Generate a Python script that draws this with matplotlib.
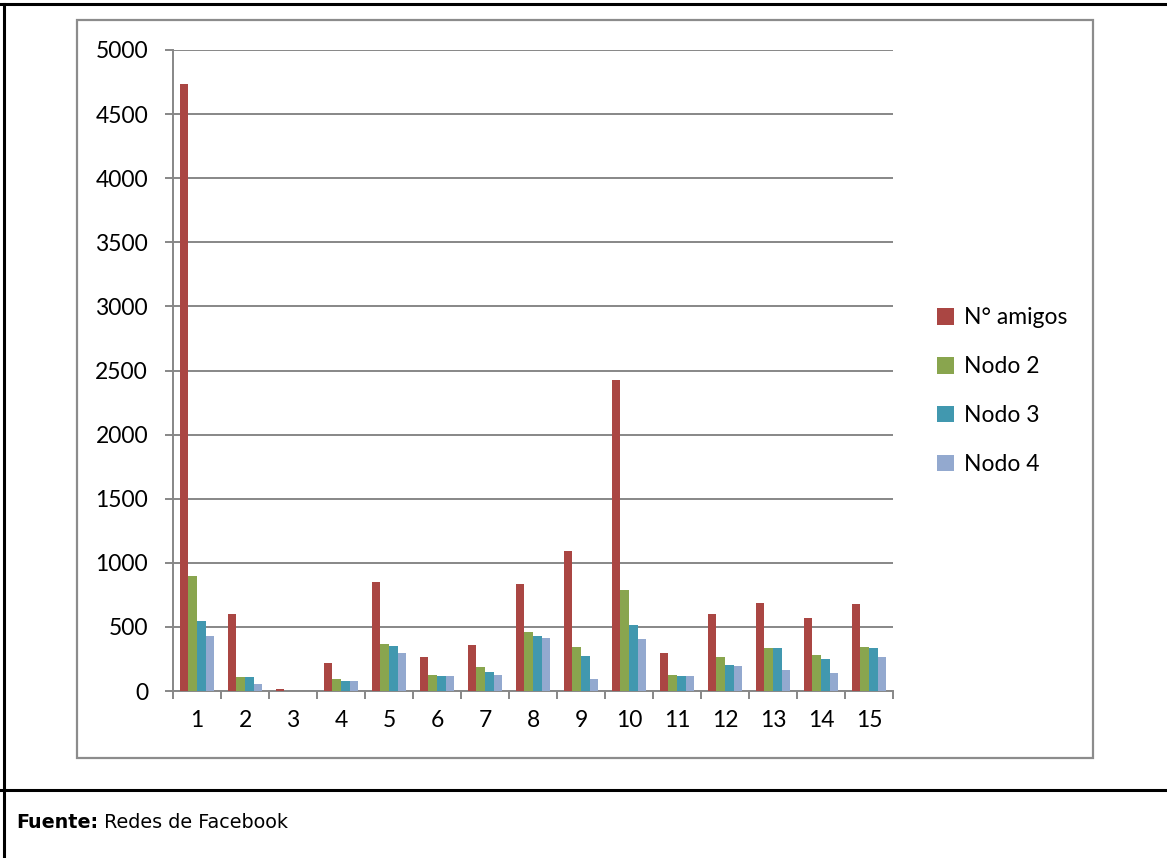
import numpy as np
import matplotlib.pyplot as plt
from matplotlib.patches import Rectangle
from matplotlib.lines import Line2D

# Data
categories = [str(i) for i in range(1, 16)]
amigos = [4735, 598, 13, 218, 850, 265, 356, 837, 1090, 2426, 294, 603, 686, 569, 676]
nodo2 = [897, 112, 0, 91, 367, 125, 185, 460, 346, 788, 125, 265, 338, 283, 343]
nodo3 = [548, 110, 0, 76, 354, 120, 146, 429, 270, 512, 115, 203, 338, 250, 338]
nodo4 = [429, 55, 0, 76, 299, 117, 125, 413, 96, 408, 115, 193, 164, 138, 265]
series_names = ['N° amigos', 'Nodo 2', 'Nodo 3', 'Nodo 4']
colors = ['#AA4643', '#89A54E', '#4198AF', '#93A9CF']

W, H = 1167, 858
fig = plt.figure(figsize=(W / 100, H / 100), dpi=100)

# axes placed in pixel terms
left, right, top, bottom = 173, 893, 50, 691
ax = fig.add_axes([left / W, 1 - bottom / H, (right - left) / W, (bottom - top) / H])

x = np.arange(1, 16)
bw = 1 / 5.5
series = [amigos, nodo2, nodo3, nodo4]
handles = []
for i, (vals, c) in enumerate(zip(series, colors)):
    b = ax.bar(x + (i - 1.5) * bw, vals, width=bw, color=c, zorder=3)
    handles.append(b)

ax.set_xlim(0.5, 15.5)
ax.set_ylim(0, 5000)
ax.set_yticks(np.arange(0, 5001, 500))
ax.yaxis.grid(True, color='#878787', lw=1.4, zorder=0)
ax.set_axisbelow(True)

# ticks at category boundaries, labels in the middle
ax.set_xticks(np.arange(0.5, 15.6, 1))
ax.set_xticklabels([])
ax.set_xticks(x, minor=True)
ax.set_xticklabels(categories, minor=True)
ax.tick_params(axis='x', which='major', length=6, width=1.4, color='#878787', direction='out')
ax.tick_params(axis='x', which='minor', length=0, pad=14)
ax.tick_params(axis='y', length=6, width=1.4, color='#878787', direction='out', pad=12)

tick_font = 'Lato'
for lab in ax.get_yticklabels() + ax.get_xticklabels(minor=True):
    lab.set_fontfamily(tick_font)
    lab.set_fontsize(16.5)

for s in ['top', 'right']:
    ax.spines[s].set_visible(False)
for s in ['left', 'bottom']:
    ax.spines[s].set_color('#878787')
    ax.spines[s].set_linewidth(1.4)

leg = fig.legend(handles, series_names, loc='upper left',
                 bbox_to_anchor=(928 / W, 1 - 298 / H), frameon=False,
                 prop={'family': tick_font, 'size': 16.5},
                 handlelength=0.75, handleheight=0.75, handletextpad=0.4,
                 labelspacing=1.22, borderaxespad=0)

# chart area frame
fig.patches.append(Rectangle((77 / W, 1 - 758 / H), (1093 - 77) / W, (758 - 20) / H,
                             transform=fig.transFigure, fill=False,
                             edgecolor='#8c8c8c', lw=1.6))

# outer table borders
k = dict(transform=fig.transFigure, color='black', lw=2.2)
fig.lines.append(Line2D([0, 1], [1 - 4 / H, 1 - 4 / H], **k))
fig.lines.append(Line2D([4 / W, 4 / W], [0, 1 - 4 / H], **k))
fig.lines.append(Line2D([0, 1], [1 - 790 / H, 1 - 790 / H], **k))

# source note: bold label, then the rest right after it
src = fig.text(16 / W, 1 - 822 / H, 'Fuente:', fontsize=13.8, fontweight='bold',
               family='DejaVu Sans', va='center')
ax.annotate(' Redes de Facebook', xy=(1, 0.5), xycoords=src,
            va='center', ha='left', fontsize=13.8, family='DejaVu Sans',
            annotation_clip=False)

fig.savefig('out.png', dpi=100)
